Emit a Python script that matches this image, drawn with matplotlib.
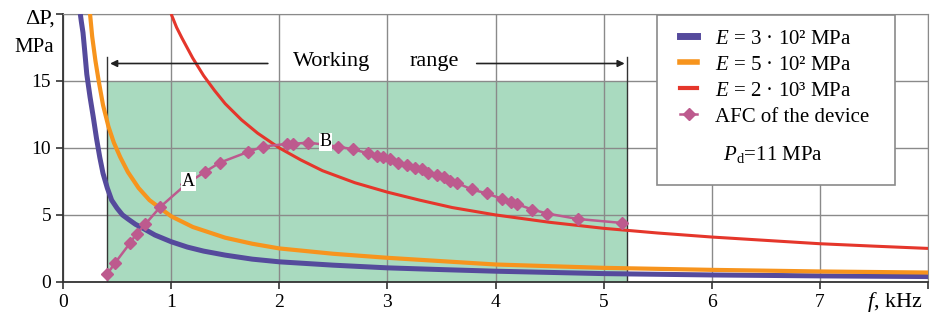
import matplotlib
matplotlib.use("Agg")
import matplotlib.pyplot as plt
from matplotlib.lines import Line2D
from matplotlib.patches import Rectangle

plt.rcParams['font.family'] = ['Liberation Serif', 'DejaVu Serif']
plt.rcParams['mathtext.fontset'] = 'custom'
plt.rcParams['mathtext.rm'] = 'Liberation Serif'
plt.rcParams['mathtext.it'] = 'Liberation Serif:italic'

# ---- data ----
f_blue = [0.16, 0.17, 0.185, 0.2, 0.22, 0.25, 0.28, 0.31, 0.34, 0.37, 0.41, 0.45, 0.5, 0.55, 0.6,
          0.67, 0.74, 0.85, 1.0, 1.15, 1.3, 1.5, 1.75, 2.0, 2.5, 3.0, 3.5, 4.0, 5.0, 6.0, 7.0, 8.0]
p_blue = [20.0, 19.4, 18.6, 17.3, 15.5, 13.8, 12.3, 10.7, 9.3, 8.1, 7.0, 6.1, 5.5, 5.0, 4.7,
          4.3, 4.0, 3.5, 3.0, 2.6, 2.3, 2.0, 1.7, 1.5, 1.25, 1.05, 0.92, 0.8, 0.62, 0.52, 0.45, 0.4]

f_orange = [0.25, 0.27, 0.3, 0.33, 0.37, 0.42, 0.47, 0.53, 0.6, 0.7, 0.8, 0.9, 1.0, 1.1, 1.2,
            1.35, 1.5, 1.75, 2.0, 2.5, 3.0, 3.5, 4.0, 5.0, 6.0, 7.0, 8.0]
p_orange = [20.0, 18.3, 16.5, 15.0, 13.2, 11.6, 10.4, 9.3, 8.2, 7.0, 6.1, 5.5, 4.9, 4.5, 4.1,
            3.7, 3.3, 2.85, 2.5, 2.1, 1.8, 1.55, 1.3, 1.05, 0.9, 0.78, 0.7]

f_red = [1.0, 1.05, 1.1, 1.2, 1.3, 1.4, 1.5, 1.65, 1.8, 2.0, 2.2, 2.4, 2.7, 3.0, 3.3, 3.6,
         4.0, 4.5, 5.0, 5.5, 6.0, 6.5, 7.0, 7.5, 8.0]
p_red = [20.0, 19.0, 18.2, 16.7, 15.4, 14.3, 13.3, 12.1, 11.1, 10.0, 9.1, 8.3, 7.4, 6.7, 6.1, 5.55,
         5.0, 4.45, 4.0, 3.65, 3.35, 3.1, 2.85, 2.67, 2.5]

f_afc = [0.41, 0.48, 0.62, 0.68, 0.76, 0.90, 1.14, 1.31, 1.45, 1.71, 1.85, 2.07, 2.13, 2.27,
         2.54, 2.68, 2.82, 2.90, 2.96, 3.02, 3.10, 3.18, 3.26, 3.32, 3.38, 3.46, 3.52, 3.58,
         3.64, 3.78, 3.92, 4.06, 4.14, 4.20, 4.34, 4.48, 4.76, 5.17]
p_afc = [0.6, 1.4, 2.9, 3.6, 4.3, 5.6, 7.3, 8.2, 8.9, 9.7, 10.1, 10.3, 10.3, 10.4,
         10.1, 9.9, 9.6, 9.4, 9.3, 9.2, 8.9, 8.7, 8.5, 8.4, 8.1, 8.0, 7.8, 7.5,
         7.4, 6.9, 6.6, 6.2, 6.0, 5.8, 5.4, 5.1, 4.7, 4.4]

work_range = [0.41, 5.22]
work_top = 15
x_ticks = [0, 1, 2, 3, 4, 5, 6, 7]
y_ticks = [0, 5, 10, 15]

labels = ["$E$ = 3 · 10² MPa", "$E$ = 5 · 10² MPa", "$E$ = 2 · 10³ MPa", "AFC of the device"]
pd_label = "$P$$_\\mathrm{d}$=11 MPa"

c_blue = '#554a9c'
c_orange = '#f7941d'
c_red = '#e5362b'
c_afc = '#bd5a8e'
c_green = '#a9dabf'

fig = plt.figure(figsize=(9.39, 3.2), dpi=100)
ax = fig.add_axes([0.0671, 0.119, 0.9212, 0.8375])
ax.set_xlim(0, 8)
ax.set_ylim(0, 20)

# working range fill
ax.fill_between(work_range, 0, work_top, color=c_green, zorder=0.2, linewidth=0)
for xv in work_range:
    ax.plot([xv, xv], [0, 16.8], color='#333333', lw=1.0, zorder=2)

# grid
ax.set_axisbelow(True)
ax.grid(True, color='#8a8a8a', lw=1.0)

ax.plot(f_blue, p_blue, color=c_blue, lw=3.6, zorder=3, solid_capstyle='butt')
ax.plot(f_orange, p_orange, color=c_orange, lw=3.0, zorder=3, solid_capstyle='butt')
ax.plot(f_red, p_red, color=c_red, lw=2.2, zorder=3, solid_capstyle='butt')
ax.plot(f_afc, p_afc, color=c_afc, lw=1.8, marker='D', ms=6, zorder=4)

# working range arrows & text
ax.annotate('', xy=(work_range[0], 16.3), xytext=(1.92, 16.3),
            arrowprops=dict(arrowstyle='-|>', color='#222222', lw=1.2, mutation_scale=10), zorder=5)
ax.annotate('', xy=(work_range[1], 16.3), xytext=(3.8, 16.3),
            arrowprops=dict(arrowstyle='-|>', color='#222222', lw=1.2, mutation_scale=10), zorder=5)
ax.text(2.48, 16.45, 'Working', ha='center', va='center', fontsize=16, zorder=6,
        bbox=dict(facecolor='white', edgecolor='none', pad=1))
ax.text(3.43, 16.45, 'range', ha='center', va='center', fontsize=16, zorder=6,
        bbox=dict(facecolor='white', edgecolor='none', pad=1))

# point labels
ax.text(1.16, 7.5, 'A', ha='center', va='center', fontsize=13, zorder=6,
        bbox=dict(facecolor='white', edgecolor='none', pad=0.5))
ax.text(2.43, 10.45, 'B', ha='center', va='center', fontsize=13, zorder=6,
        bbox=dict(facecolor='white', edgecolor='none', pad=0.5))

# ticks
ax.set_xticks(x_ticks + [8])
ax.set_xticklabels([str(v) for v in x_ticks] + [''])
ax.set_yticks(y_ticks + [20])
ax.set_yticklabels([str(v) for v in y_ticks] + [''])
ax.tick_params(labelsize=14, length=5, width=1.2, color='#333333', direction='out')
for s in ['top', 'right']:
    ax.spines[s].set_color('#8a8a8a')
for s in ['left', 'bottom']:
    ax.spines[s].set_color('#333333')
    ax.spines[s].set_linewidth(1.3)

fig.text(0.043, 0.94, 'ΔP,', ha='center', va='center', fontsize=16)
fig.text(0.036, 0.85, 'MPa', ha='center', va='center', fontsize=15)
fig.text(0.953, 0.055, '$f$, kHz', ha='center', va='center', fontsize=16)

# legend box (drawn manually to match proportions)
box = Rectangle((0.6867, 0.362), 0.2751, 0.634, transform=ax.transAxes,
                facecolor='white', edgecolor='#8a8a8a', lw=1.2, zorder=9)
ax.add_patch(box)
handles = [Line2D([], [], color=c_blue, lw=5),
           Line2D([], [], color=c_orange, lw=4),
           Line2D([], [], color=c_red, lw=3),
           Line2D([], [], color=c_afc, lw=1.8, marker='D', ms=6)]
leg = ax.legend(handles, labels, loc='upper left', bbox_to_anchor=(0.713, 0.944),
                fontsize=15, frameon=False, handlelength=0.85, handletextpad=0.85,
                labelspacing=0.31, borderpad=0.0, borderaxespad=0.0)
leg.set_zorder(10)
ax.text(0.821, 0.474, pd_label, transform=ax.transAxes, ha='center', va='center',
        fontsize=15, zorder=11)

fig.savefig('out.png', dpi=100)
